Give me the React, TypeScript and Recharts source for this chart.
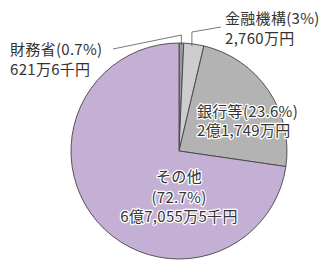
import { PieChart, Pie, Cell } from "recharts";

const names = ["財務省", "金融機構", "銀行等", "その他"];
const shares = [0.7, 3, 23.6, 72.7];
const amounts = ["621万6千円", "2,760万円", "2億1,749万円", "6億7,055万5千円"];
const colors = ["#9a9a9a", "#cdcdcf", "#b3b3b3", "#c5b0d5"];

const data = names.map((name, i) => ({ name, value: shares[i], amount: amounts[i] }));

const FONT = "'Noto Sans CJK JP', 'Noto Sans', sans-serif";
const TEXT = "#333333";

const txt = {
  fontSize: 15,
  fill: TEXT,
  fontFamily: FONT,
  letterSpacing: 0.3,
  dominantBaseline: "central" as const,
};

const halo = {
  stroke: "#ffffff",
  strokeWidth: 2.5,
  paintOrder: "stroke" as const,
  strokeLinejoin: "round" as const,
};

const RAD = Math.PI / 180;

function renderLabel(props: any) {
  const { cx, cy, midAngle, outerRadius, index } = props;
  const ex = cx + outerRadius * Math.cos(-midAngle * RAD);
  const ey = cy + outerRadius * Math.sin(-midAngle * RAD);
  const d = data[index];
  const pct = `(${d.value}%)`;

  if (index === 0) {
    return (
      <g key="l0">
        <polyline
          points={`${ex},${ey + 2} ${ex},35 113,49`}
          fill="none"
          stroke="#555"
          strokeWidth={0.8}
        />
        <text x={10} y={48.5} textAnchor="start" {...txt}>
          {d.name + pct}
        </text>
        <text x={10} y={68.5} textAnchor="start" {...txt}>
          {d.amount}
        </text>
      </g>
    );
  }
  if (index === 1) {
    return (
      <g key="l1">
        <polyline
          points={`${ex - 2},${ey + 2} ${ex - 2},32 221,27`}
          fill="none"
          stroke="#555"
          strokeWidth={0.8}
        />
        <text x={225} y={17.5} textAnchor="start" {...txt}>
          {d.name + pct}
        </text>
        <text x={225} y={37} textAnchor="start" {...txt}>
          {d.amount}
        </text>
      </g>
    );
  }
  if (index === 2) {
    return (
      <g key="l2">
        <text x={197} y={110.5} textAnchor="start" {...txt} {...halo}>
          {d.name + pct}
        </text>
        <text x={197} y={129.5} textAnchor="start" {...txt} {...halo}>
          {d.amount}
        </text>
      </g>
    );
  }
  return (
    <g key="l3">
      <text x={cx} y={175.5} textAnchor="middle" {...txt} {...halo}>
        {d.name}
      </text>
      <text x={cx} y={196} textAnchor="middle" {...txt} {...halo}>
        {pct}
      </text>
      <text x={cx} y={215.5} textAnchor="middle" {...txt} {...halo}>
        {d.amount}
      </text>
    </g>
  );
}

export default function App() {
  return (
    <div style={{ position: "absolute", left: 0, top: 0, width: 333, height: 267, background: "#fff" }}>
      <PieChart width={333} height={267} margin={{ top: 0, right: 0, bottom: 0, left: 0 }}>
        <Pie
          data={data}
          dataKey="value"
          nameKey="name"
          cx={179}
          cy={151}
          outerRadius={108}
          startAngle={90}
          endAngle={-270}
          stroke="#444"
          strokeWidth={0.9}
          label={renderLabel}
          labelLine={false}
          isAnimationActive={false}
        >
          {data.map((d, i) => (
            <Cell key={d.name} fill={colors[i]} />
          ))}
        </Pie>
      </PieChart>
    </div>
  );
}
